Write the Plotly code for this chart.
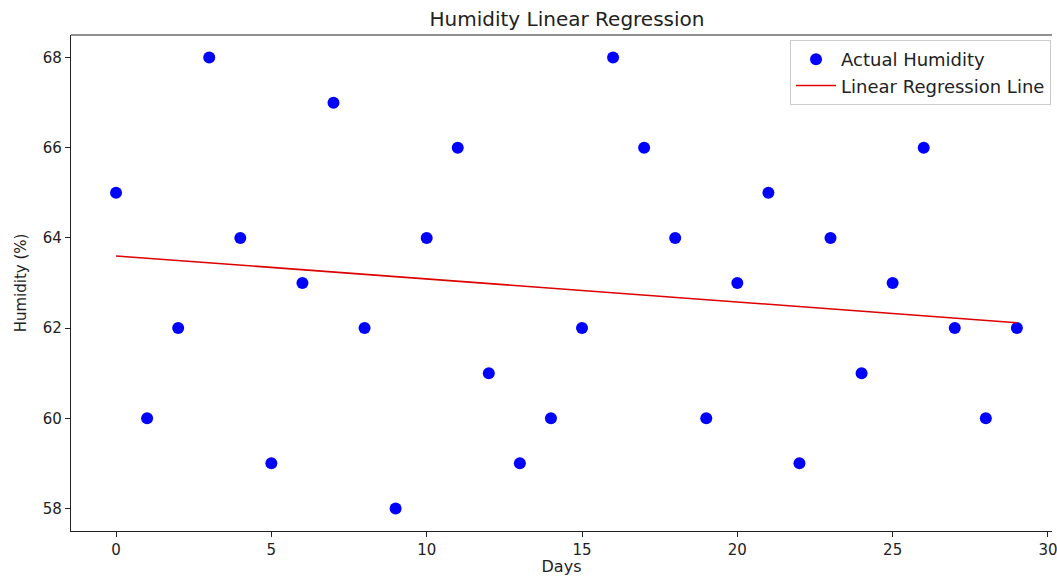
import plotly.graph_objects as go

days = list(range(30))
humidity = [65, 60, 62, 68, 64, 59, 63, 67, 62, 58,
            64, 66, 61, 59, 60, 62, 68, 66, 64, 60,
            63, 65, 59, 64, 61, 63, 66, 62, 60, 62]
# regression line end values (day 0 and day 29)
reg_days = [0, 29]
reg_values = [63.6, 62.12]
x_ticks = [0, 5, 10, 15, 20, 25, 30]
y_ticks = [58, 60, 62, 64, 66, 68]

FONT = "DejaVu Sans"

fig = go.Figure()
fig.add_trace(go.Scatter(x=days, y=humidity, mode="markers", name="Actual Humidity",
                         marker=dict(color="#0000ff", size=12, line=dict(width=0))))
fig.add_trace(go.Scatter(x=reg_days, y=reg_values, mode="lines", name="Linear Regression Line",
                         line=dict(color="#dd0000", width=1.6)))

W, H = 1057, 576
fig.update_layout(
    width=W, height=H,
    margin=dict(l=71, r=0, t=35, b=45),
    paper_bgcolor="white", plot_bgcolor="white",
    font=dict(family=FONT, size=15, color="#222"),
    title=dict(text="Humidity Linear Regression", x=567 / W, xanchor="center",
               y=1 - 19 / H, yanchor="middle", font=dict(size=20, family=FONT, color="#222")),
    showlegend=True,
    legend=dict(x=0.999, xanchor="right", y=0.99, yanchor="top",
                bordercolor="#cccccc", borderwidth=1, bgcolor="rgba(255,255,255,0.9)",
                font=dict(size=18, family=FONT, color="#222"), tracegroupgap=0,
                itemwidth=40),
    xaxis=dict(range=[-1.45, 30.13], tickvals=x_ticks, showgrid=False, zeroline=False,
               showline=True, linecolor="#222", linewidth=1.2,
               ticks="outside", ticklen=5, tickcolor="#222", ticklabeloverflow="allow",
               title=dict(text="Days", font=dict(size=16), standoff=4)),
    yaxis=dict(range=[57.5, 68.5], tickvals=y_ticks, showgrid=False, zeroline=False,
               showline=True, linecolor="#222", linewidth=1.2,
               ticks="outside", ticklen=5, tickcolor="#222",
               title=dict(text="Humidity (%)", font=dict(size=15), standoff=12)),
)
fig.add_shape(type="line", xref="paper", yref="paper", x0=0, x1=1, y0=1, y1=1,
              line=dict(color="#222", width=1.2))

fig.write_html(
    "out.html",
    config={"displayModeBar": False},
    post_script="document.body.style.margin='0';document.body.style.overflow='hidden';"
                "document.documentElement.style.overflow='hidden';",
)
